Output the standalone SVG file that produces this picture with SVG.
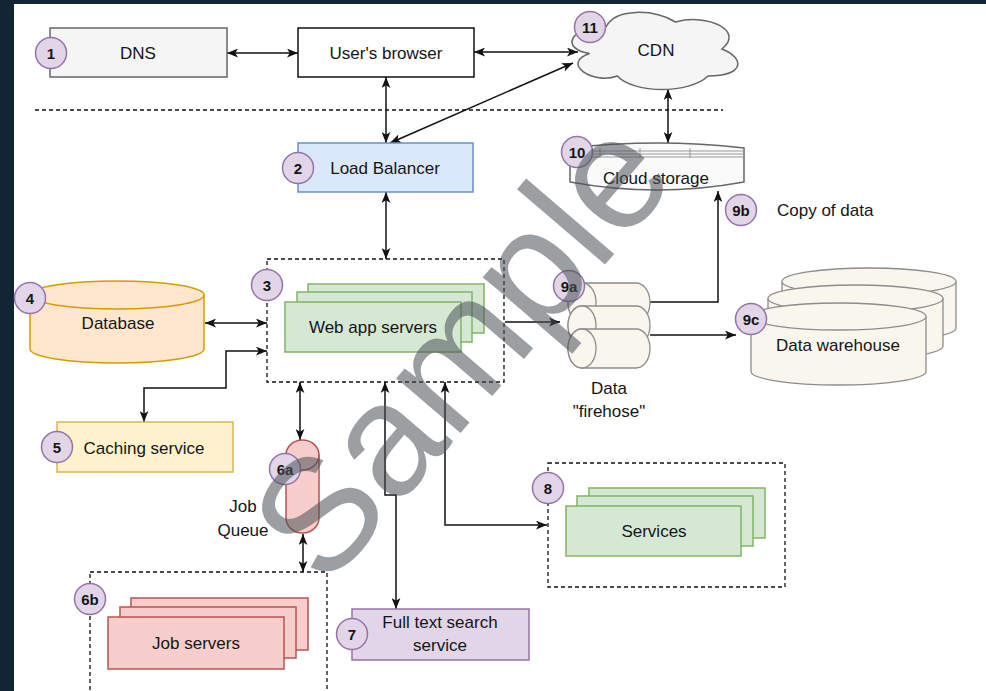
<svg xmlns="http://www.w3.org/2000/svg" width="986" height="691" viewBox="0 0 986 691">
<style>
  text { font-family: "Liberation Sans", Arial, sans-serif; fill: #151515; }
  .lbl { font-size: 17px; text-anchor: middle; dominant-baseline: central; }
  .bt { font-size: 15px; font-weight: bold; text-anchor: middle; dominant-baseline: central; }
  .badge { fill: #e1d5e7; stroke: #9673a6; stroke-width: 1.5; }
  .dash { fill: none; stroke: #111; stroke-width: 1.3; stroke-dasharray: 4 3; }
  .con { fill: none; stroke: #111; stroke-width: 1.5; }
  .green { fill: #d5e8d4; stroke: #82b366; stroke-width: 1.5; }
  .red { fill: #f8cecc; stroke: #b85450; stroke-width: 1.5; }
  .cream { fill: #f9f7ed; stroke: #8c8c8c; stroke-width: 1.3; }
</style>
<defs>
  <marker id="ar" viewBox="0 0 10 8" refX="10" refY="4" markerWidth="11" markerHeight="9" markerUnits="userSpaceOnUse" orient="auto-start-reverse">
    <path d="M0,0 L10,4 L0,8 L2.5,4 Z" fill="#111"/>
  </marker>
</defs>

<rect x="0" y="0" width="986" height="691" fill="#112532"/>
<rect x="14" y="4" width="972" height="687" fill="#ffffff"/>

<line x1="35" y1="110" x2="723" y2="110" class="dash"/>

<g id="connectors">
  <line class="con" x1="227" y1="53" x2="298" y2="53" marker-start="url(#ar)" marker-end="url(#ar)"/>
  <line class="con" x1="474" y1="52" x2="578" y2="52" marker-start="url(#ar)" marker-end="url(#ar)"/>
  <line class="con" x1="386" y1="77" x2="386" y2="143" marker-start="url(#ar)" marker-end="url(#ar)"/>
  <line class="con" x1="390" y1="143" x2="573" y2="63" marker-start="url(#ar)" marker-end="url(#ar)"/>
  <line class="con" x1="386" y1="192" x2="386" y2="259" marker-start="url(#ar)" marker-end="url(#ar)"/>
  <line class="con" x1="668" y1="89" x2="668" y2="143" marker-start="url(#ar)" marker-end="url(#ar)"/>
  <line class="con" x1="205" y1="323" x2="267" y2="323" marker-start="url(#ar)" marker-end="url(#ar)"/>
  <polyline class="con" points="267,351 226,351 226,388 144,388 144,422" marker-start="url(#ar)" marker-end="url(#ar)"/>
  <line class="con" x1="300" y1="382" x2="300" y2="440" marker-start="url(#ar)" marker-end="url(#ar)"/>
  <line class="con" x1="303" y1="534" x2="303" y2="572" marker-start="url(#ar)" marker-end="url(#ar)"/>
  <polyline class="con" points="385,382 385,495 396,495 396,609" marker-start="url(#ar)" marker-end="url(#ar)"/>
  <polyline class="con" points="445,382 445,525 547,525" marker-start="url(#ar)" marker-end="url(#ar)"/>
  <line class="con" x1="505" y1="322" x2="560" y2="322" marker-end="url(#ar)"/>
  <polyline class="con" points="650,302 718,302 718,191" marker-end="url(#ar)"/>
  <line class="con" x1="650" y1="335" x2="736" y2="335" marker-end="url(#ar)"/>
</g>

<g id="dns">
  <rect x="50" y="28" width="177" height="49" fill="#f5f5f5" stroke="#666" stroke-width="1.5"/>
  <text class="lbl" x="138" y="53">DNS</text>
  <circle class="badge" cx="51" cy="53" r="15.5"/><text class="bt" x="51" y="53">1</text>
</g>

<g id="browser">
  <rect x="298" y="28" width="176" height="49" fill="#fff" stroke="#111" stroke-width="1.5"/>
  <text class="lbl" x="386" y="53">User's browser</text>
</g>

<g id="cdn">
  <path d="M606.25,26.5 C569.25,26.5 560,49 589.6,53.5 C560,63.4 593.3,85 617.35,76 C634,94 689.5,94 708,76 C745,76 745,58 721.9,49 C745,31 708,13 675.6,22 C652.5,8.5 615.5,8.5 606.25,26.5 Z" fill="#f5f5f5" stroke="#666" stroke-width="1.5"/>
  <text class="lbl" x="656" y="50">CDN</text>
  <circle class="badge" cx="590" cy="27" r="15.5"/><text class="bt" x="590" y="27">11</text>
</g>

<g id="load-balancer">
  <rect x="298" y="143" width="175" height="49" fill="#dae8fc" stroke="#6c8ebf" stroke-width="1.5"/>
  <text class="lbl" x="385" y="168">Load Balancer</text>
  <circle class="badge" cx="298" cy="168" r="15.5"/><text class="bt" x="298" y="168">2</text>
</g>

<g id="cloud-storage">
  <path d="M570,148 Q657,138 744,148 V182 Q657,198 570,182 Z" fill="#fafafa" stroke="#666" stroke-width="1.5"/>
  <path d="M580,151 H744 M580,154 H744 M580,157 H744 M600,148 V158 M640,148 V158 M690,148 V158" fill="none" stroke="#999" stroke-width="1"/>
  <text class="lbl" x="656" y="178">Cloud storage</text>
  <circle class="badge" cx="577" cy="152" r="15.5"/><text class="bt" x="577" y="152">10</text>
</g>

<g id="copy-of-data">
  <circle class="badge" cx="741" cy="210" r="15.5"/><text class="bt" x="741" y="210">9b</text>
  <text x="777" y="210" font-size="17" dominant-baseline="central">Copy of data</text>
</g>

<g id="database">
  <path d="M30,295 A87,14 0 0 1 204,295 V349 A87,14 0 0 1 30,349 Z" fill="#ffe6cc" stroke="#d79b00" stroke-width="1.5"/>
  <path d="M30,295 A87,14 0 0 0 204,295" fill="none" stroke="#d79b00" stroke-width="1.5"/>
  <text class="lbl" x="118" y="323">Database</text>
  <circle class="badge" cx="30" cy="298" r="15.5"/><text class="bt" x="30" y="298">4</text>
</g>

<g id="web-app-servers">
  <rect x="267" y="259" width="237" height="123" class="dash"/>
  <rect x="308" y="284" width="176" height="49" class="green"/>
  <rect x="297" y="292" width="175" height="50" class="green"/>
  <rect x="285" y="302" width="176" height="50" class="green"/>
  <text class="lbl" x="373" y="327">Web app servers</text>
  <circle class="badge" cx="267" cy="285" r="15.5"/><text class="bt" x="267" y="285">3</text>
</g>

<g id="caching">
  <rect x="57" y="422" width="176" height="50" fill="#fff2cc" stroke="#d6b656" stroke-width="1.5"/>
  <text class="lbl" x="144" y="448">Caching service</text>
  <circle class="badge" cx="57" cy="447" r="15.5"/><text class="bt" x="57" y="447">5</text>
</g>

<g id="job-queue">
  <path d="M286,455 A16.5,15 0 0 1 319,455 V518 A16.5,15 0 0 1 286,518 Z" class="red"/>
  <path d="M286,455 A16.5,15 0 0 0 319,455" fill="none" stroke="#b85450" stroke-width="1.5"/>
  <circle class="badge" cx="285" cy="469" r="15.5"/><text class="bt" x="285" y="469">6a</text>
  <text class="lbl" x="243" y="506">Job</text>
  <text class="lbl" x="243" y="530">Queue</text>
</g>

<g id="job-servers">
  <rect x="90" y="572" width="237" height="130" class="dash"/>
  <rect x="131" y="598" width="177" height="52" class="red"/>
  <rect x="120" y="607" width="176" height="51" class="red"/>
  <rect x="108" y="617" width="176" height="52" class="red"/>
  <text class="lbl" x="196" y="643">Job servers</text>
  <circle class="badge" cx="90" cy="599" r="15.5"/><text class="bt" x="90" y="599">6b</text>
</g>

<g id="full-text-search">
  <rect x="352" y="609" width="177" height="51" fill="#e1d5e7" stroke="#9673a6" stroke-width="1.5"/>
  <text class="lbl" x="440" y="622">Full text search</text>
  <text class="lbl" x="440" y="645">service</text>
  <circle class="badge" cx="352" cy="634" r="15.5"/><text class="bt" x="352" y="634">7</text>
</g>

<g id="services">
  <rect x="548" y="463" width="237" height="124" class="dash"/>
  <rect x="589" y="488" width="176" height="50" class="green"/>
  <rect x="577" y="496" width="176" height="50" class="green"/>
  <rect x="566" y="506" width="175" height="50" class="green"/>
  <text class="lbl" x="654" y="531">Services</text>
  <circle class="badge" cx="548" cy="488" r="15.5"/><text class="bt" x="548" y="488">8</text>
</g>

<g id="firehose">
  <path d="M582,283 H636 A14,19.5 0 0 1 636,322 H582 A14,19.5 0 0 1 582,283 Z" class="cream"/>
  <ellipse cx="582" cy="302.5" rx="14" ry="19.5" class="cream"/>
  <path d="M582,306 H636 A14,19.5 0 0 1 636,345 H582 A14,19.5 0 0 1 582,306 Z" class="cream"/>
  <ellipse cx="582" cy="325.5" rx="14" ry="19.5" class="cream"/>
  <path d="M582,329 H636 A14,19.5 0 0 1 636,368 H582 A14,19.5 0 0 1 582,329 Z" class="cream"/>
  <ellipse cx="582" cy="348.5" rx="14" ry="19.5" class="cream"/>
  <circle class="badge" cx="569" cy="286" r="15.5"/><text class="bt" x="569" y="286">9a</text>
  <text class="lbl" x="609" y="388">Data</text>
  <text class="lbl" x="609" y="411">"firehose"</text>
</g>

<g id="data-warehouse">
  <path d="M782,281.5 A87,13.5 0 0 1 956,281.5 V328 A87,13.5 0 0 1 782,328 Z" class="cream"/>
  <path d="M782,281.5 A87,13.5 0 0 0 956,281.5" class="cream" fill="none"/>
  <path d="M768,298.5 A87.5,13.5 0 0 1 943,298.5 V346 A87.5,13.5 0 0 1 768,346 Z" class="cream"/>
  <path d="M768,298.5 A87.5,13.5 0 0 0 943,298.5" class="cream" fill="none"/>
  <path d="M751,316.5 A87.5,13.5 0 0 1 926,316.5 V371.5 A87.5,13.5 0 0 1 751,371.5 Z" class="cream"/>
  <path d="M751,316.5 A87.5,13.5 0 0 0 926,316.5" class="cream" fill="none"/>
  <text class="lbl" x="838" y="345">Data warehouse</text>
  <circle class="badge" cx="751" cy="319" r="15.5"/><text class="bt" x="751" y="319">9c</text>
</g>

<g opacity="0.55">
  <text x="0" y="0" font-size="160" transform="translate(326,590) rotate(-49.4)" style="fill:#4a5157">Sample</text>
</g>
</svg>
